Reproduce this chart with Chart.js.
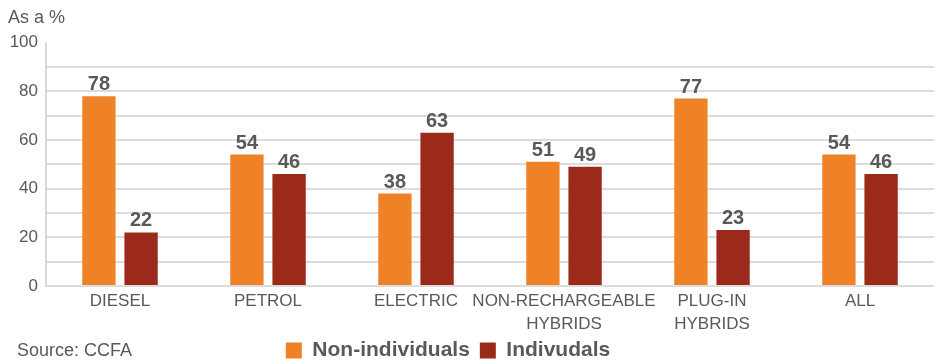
<!DOCTYPE html>
<html>
<head>
<meta charset="utf-8">
<script src="https://cdn.jsdelivr.net/npm/chart.js@4/dist/chart.umd.min.js"></script>
<style>
  html, body { margin: 0; padding: 0; background: #fff; }
  .wrap { position: relative; width: 938px; height: 363px; }
  #source {
    position: absolute; left: 17px; top: 340px;
    font: 18px "Liberation Sans", Arial, sans-serif; color: #595959;
  }
</style>
</head>
<body>
<div class="wrap">
  <canvas id="salesChart" width="938" height="363"></canvas>
  <div id="source">Source: CCFA</div>
</div>
<script>
const categories = ["DIESEL", "PETROL", "ELECTRIC", ["NON-RECHARGEABLE", "HYBRIDS"], ["PLUG-IN", "HYBRIDS"], "ALL"];
const nonIndividuals = [78, 54, 38, 51, 77, 54];
const individuals = [22, 46, 63, 49, 23, 46];
const yTickLabels = [0, 20, 40, 60, 80, 100];

const textGrey = "#595959";
const fontFamily = '"Liberation Sans", Arial, sans-serif';

// value labels above each bar
const barValues = {
  id: "barValues",
  afterDatasetsDraw(chart) {
    const ctx = chart.ctx;
    ctx.save();
    ctx.font = "bold 20px " + fontFamily;
    ctx.fillStyle = textGrey;
    ctx.textAlign = "center";
    ctx.textBaseline = "alphabetic";
    chart.data.datasets.forEach(function (ds, i) {
      chart.getDatasetMeta(i).data.forEach(function (bar, j) {
        ctx.fillText(ds.data[j], bar.x, bar.y - 6);
      });
    });
    ctx.restore();
  },
};

// nudge the legend left/up so it sits where the original one does
const legendShift = {
  id: "legendShift",
  afterLayout(chart) {
    chart.legend.left -= 46;
    chart.legend.top -= 8;
    chart.legend.bottom -= 8;
  },
};

Chart.defaults.font.family = fontFamily;
Chart.defaults.color = textGrey;

const ctx = document.getElementById("salesChart").getContext("2d");
new Chart(ctx, {
  type: "bar",
  data: {
    labels: categories,
    datasets: [
      {
        label: "Non-individuals",
        data: nonIndividuals,
        backgroundColor: "#EF8226",
        barPercentage: 0.79,
        categoryPercentage: 0.57,
      },
      {
        label: "Indivudals",
        data: individuals,
        backgroundColor: "#9B2A1A",
        barPercentage: 0.79,
        categoryPercentage: 0.57,
      },
    ],
  },
  options: {
    responsive: false,
    animation: false,
    layout: {
      padding: { left: 8, right: 4, top: 0, bottom: -16 },
    },
    plugins: {
      title: {
        display: true,
        text: "As a %",
        align: "start",
        color: textGrey,
        font: { size: 18, weight: "normal" },
        padding: { top: 7, bottom: 14 },
      },
      legend: {
        position: "bottom",
        labels: {
          boxWidth: 16,
          boxHeight: 16,
          padding: 10,
          color: textGrey,
          font: { size: 21, weight: "bold" },
        },
      },
      tooltip: { enabled: false },
    },
    scales: {
      x: {
        afterFit: function (scale) {
          scale.height = 52;
        },
        grid: { display: false, drawTicks: false },
        border: { display: false },
        ticks: {
          color: textGrey,
          font: { size: 17, lineHeight: 1.35 },
          maxRotation: 0,
          autoSkip: false,
          padding: 4,
        },
      },
      y: {
        min: 0,
        max: 100,
        afterFit: function (scale) {
          scale.width = 38;
        },
        border: { display: true, color: "#d9d9d9", width: 2 },
        grid: {
          drawTicks: false,
          lineWidth: 2,
          color: function (c) {
            return c.tick && c.tick.value === 100 ? "rgba(0,0,0,0)" : "#dcdcdc";
          },
        },
        ticks: {
          stepSize: 10,
          padding: 8,
          color: textGrey,
          font: { size: 17 },
          callback: function (value) {
            return yTickLabels.includes(value) ? value : "";
          },
        },
      },
    },
  },
  plugins: [barValues, legendShift],
});
</script>
</body>
</html>
